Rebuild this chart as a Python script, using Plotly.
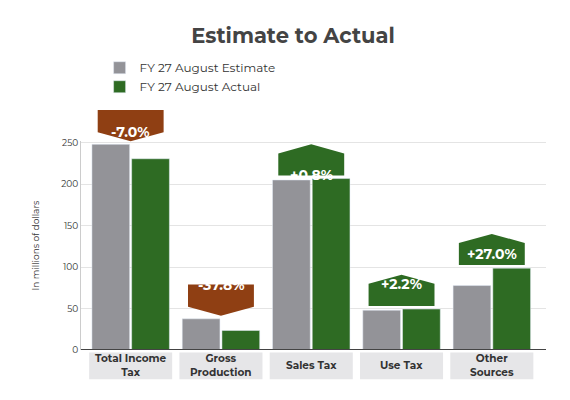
import plotly.graph_objects as go

categories = ["Total Income<br>Tax", "Gross<br>Production", "Sales Tax", "Use Tax", "Other<br>Sources"]
estimate = [248, 37.6, 205, 48, 77.7]
actual = [230.6, 23.5, 206.7, 49.4, 98.7]
changes = ["-7.0%", "-37.8%", "+0.8%", "+2.2%", "+27.0%"]
yticks = [0, 50, 100, 150, 200, 250]

GRAY = "#939398"; GREEN = "#2e6b23"; BROWN = "#8f3f13"
FONT = "Montserrat, 'Open Sans', sans-serif"
x = list(range(len(categories)))
YMAX = 252

fig = go.Figure()
fig.add_bar(x=x, y=estimate, name="FY 27 August Estimate", marker_color=GRAY)
fig.add_bar(x=x, y=actual, name="FY 27 August Actual", marker_color=GREEN)

shapes = []
annotations = []
ypx = 1.214  # data units per pixel
for i, (e, a, c) in enumerate(zip(estimate, actual, changes)):
    top = max(e, a)
    hw = 0.365
    base = top + 3 * ypx
    if c.startswith("-"):
        col = BROWN
        tip = base
        r0 = tip + 9 * ypx
        r1 = r0 + 22 * ypx
        pts = [(i-hw, r1), (i+hw, r1), (i+hw, r0), (i, tip), (i-hw, r0)]
    else:
        col = GREEN
        r0 = base
        r1 = r0 + 22 * ypx
        tip = r1 + 9 * ypx
        pts = [(i-hw, r0), (i+hw, r0), (i+hw, r1), (i, tip), (i-hw, r1)]
    path = "M " + " L ".join(f"{px},{py / YMAX}" for px, py in pts) + " Z"
    shapes.append(dict(type="path", path=path, xref="x", yref="paper", fillcolor=col, line=dict(width=0), layer="above"))
    annotations.append(dict(x=i, y=(r0 + r1) / 2 / YMAX, xref="x", yref="paper", text=f"<b>{c}</b>", showarrow=False,
                            font=dict(color="white", size=14, family=FONT)))
    shapes.append(dict(type="rect", xref="x", yref="paper", x0=i - 0.46, x1=i + 0.46, y0=-0.012, y1=-0.14,
                       fillcolor="#e6e6e8", line=dict(width=0), layer="below"))
    annotations.append(dict(x=i, y=-0.075, xref="x", yref="paper", text=f"<b>{categories[i]}</b>", showarrow=False,
                            font=dict(color="#333", size=10.5, family=FONT), yanchor="middle"))

shapes.append(dict(type="line", xref="paper", yref="y", x0=0, x1=1, y0=0, y1=0, line=dict(color="#444", width=2)))

fig.update_layout(
    width=570, height=400, margin=dict(l=73, r=32, t=133, b=58, autoexpand=False),
    paper_bgcolor="white", plot_bgcolor="white",
    barmode="group", bargap=0.12, bargroupgap=0.05,
    title=dict(text="<b>Estimate to Actual</b>", x=0.5, y=0.93, xanchor="center", yanchor="middle",
               font=dict(size=21, color="#444", family=FONT)),
    legend=dict(x=0.04, y=1.42, xref="paper", yref="paper", xanchor="left", yanchor="top",
                font=dict(size=12, color="#333", family=FONT), itemwidth=30, tracegroupgap=2),
    xaxis=dict(tickvals=x, showticklabels=False, range=[-0.55, 4.6], showgrid=False, zeroline=False),
    yaxis=dict(range=[0, YMAX], tickvals=yticks, gridcolor="#e4e4e4", zeroline=False,
               showline=True, linecolor="#ccc", linewidth=1,
               tickfont=dict(size=9, color="#333", family=FONT),
               title=dict(text="In millions of dollars", font=dict(size=9, color="#333", family=FONT), standoff=20)),
    shapes=shapes, annotations=annotations, showlegend=True,
)
fig.write_html("out.html")
